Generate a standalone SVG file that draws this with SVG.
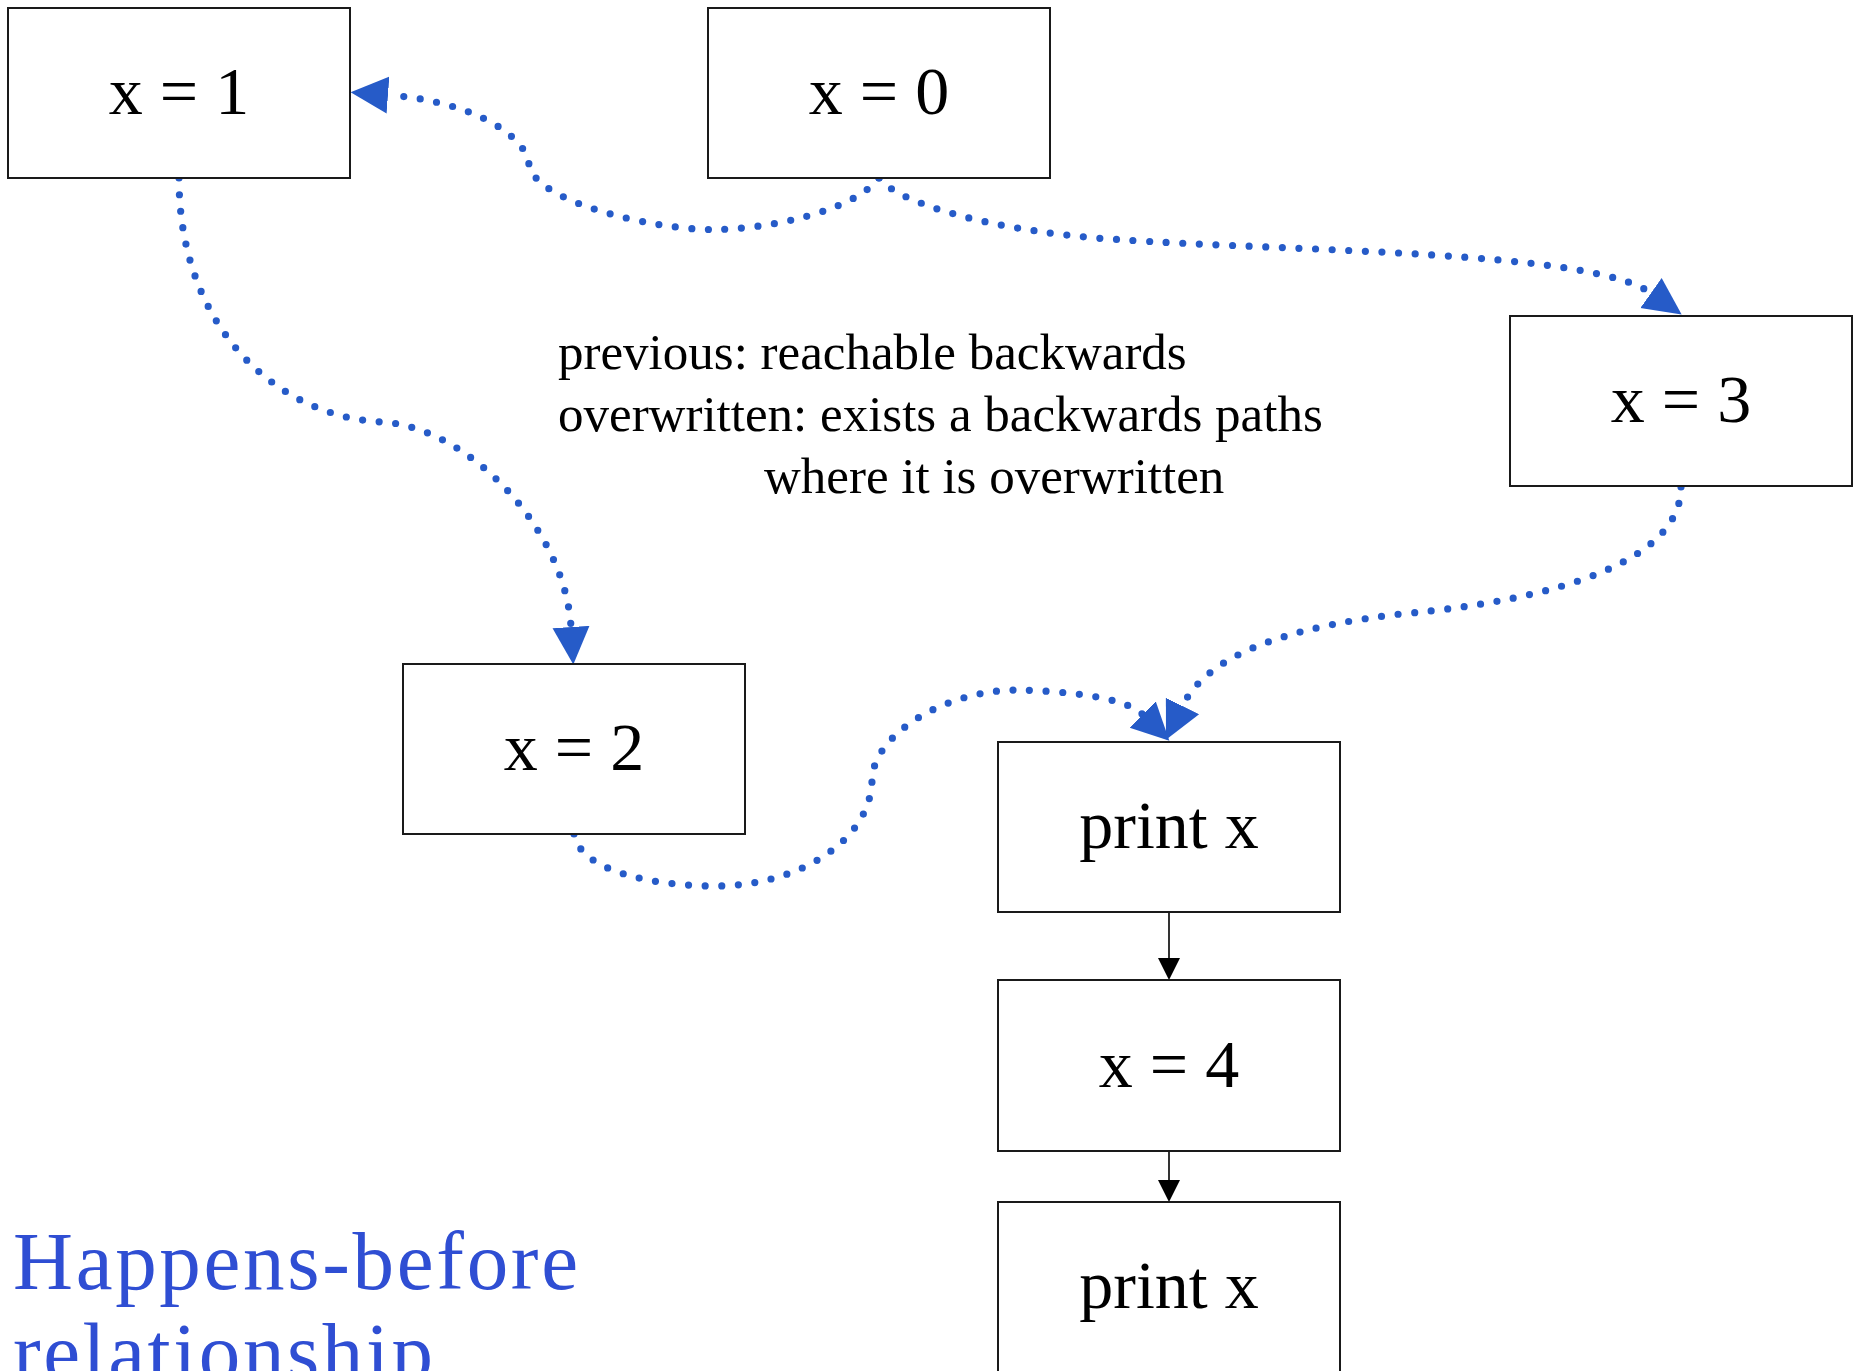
<svg xmlns="http://www.w3.org/2000/svg" width="1858" height="1371" viewBox="0 0 1858 1371">
<style>
.box{fill:#fff;stroke:#1a1a1a;stroke-width:2}
.lbl{font-family:"Liberation Serif","Times New Roman",serif;font-size:68px;fill:#000;text-anchor:middle}
.note{font-family:"Liberation Serif","Times New Roman",serif;font-size:51px;fill:#000}
.title{font-family:"Liberation Serif","Times New Roman",serif;font-size:83px;fill:#2f4ed3}
.dot{fill:none;stroke:#265bc8;stroke-width:7.2;stroke-linecap:round;stroke-dasharray:0 16.6;marker-end:url(#ah)}
.flow{fill:none;stroke:#000;stroke-width:1.6;marker-end:url(#bk)}
</style>
<defs>
<marker id="ah" markerUnits="userSpaceOnUse" markerWidth="40" markerHeight="40" viewBox="0 -20 40 40" refX="0" refY="0" orient="auto">
<path d="M0,-18.5 L37.5,0 L0,18.5 Z" fill="#265bc8"/>
</marker>
<marker id="bk" markerUnits="userSpaceOnUse" markerWidth="24" markerHeight="24" viewBox="0 -12 24 24" refX="0" refY="0" orient="auto">
<path d="M0,-11 L22,0 L0,11 Z" fill="#000"/>
</marker>
</defs>
<rect width="1858" height="1371" fill="#fff"/>
<g id="connectors">
<path class="dot" d="M179,178 C179,330 280,418 383,422 C470,428 565,530 571,627"/>
<path class="dot" d="M879,178 C855,210 770,230 710,229.5 C660,229.5 540,205 529,166 C529,140 480,102 388,95"/>
<path class="dot" d="M879,178 C900,205 1000,232 1114,239.3 C1300,252 1590,250 1651,293"/>
<path class="dot" d="M574,834 C580,870 650,886 715,886 C800,886 870,840 872,781 C872,735 945,690 1017,690 C1065,691 1125,697 1142.7,714.5"/>
<path class="dot" d="M1681,487 C1681,560 1560,600 1400,614 C1300,626 1210,650 1182.5,706"/>
<path class="flow" d="M1169,912 L1169,958"/>
<path class="flow" d="M1169,1151 L1169,1180"/>
</g>
<g id="n_x1"><rect class="box" x="8" y="8" width="342" height="170"/><text class="lbl" x="179" y="114">x = 1</text></g>
<g id="n_x0"><rect class="box" x="708" y="8" width="342" height="170"/><text class="lbl" x="879" y="114">x = 0</text></g>
<g id="n_x3"><rect class="box" x="1510" y="316" width="342" height="170"/><text class="lbl" x="1681" y="422">x = 3</text></g>
<g id="n_x2"><rect class="box" x="403" y="664" width="342" height="170"/><text class="lbl" x="574" y="770">x = 2</text></g>
<g id="n_print1"><rect class="box" x="998" y="742" width="342" height="170"/><text class="lbl" x="1169" y="848">print x</text></g>
<g id="n_x4"><rect class="box" x="998" y="980" width="342" height="171"/><text class="lbl" x="1169" y="1087">x = 4</text></g>
<g id="n_print2"><rect class="box" x="998" y="1202" width="342" height="172"/><text class="lbl" x="1169" y="1308">print x</text></g>
<g id="note">
<text class="note" x="558" y="369">previous: reachable backwards</text>
<text class="note" x="558" y="431">overwritten: exists a backwards paths</text>
<text class="note" x="764" y="493">where it is overwritten</text>
</g>
<g id="title">
<text class="title" x="13" y="1289" textLength="565" lengthAdjust="spacing">Happens-before</text>
<text class="title" x="13" y="1380" textLength="420" lengthAdjust="spacing">relationship</text>
</g>
</svg>
